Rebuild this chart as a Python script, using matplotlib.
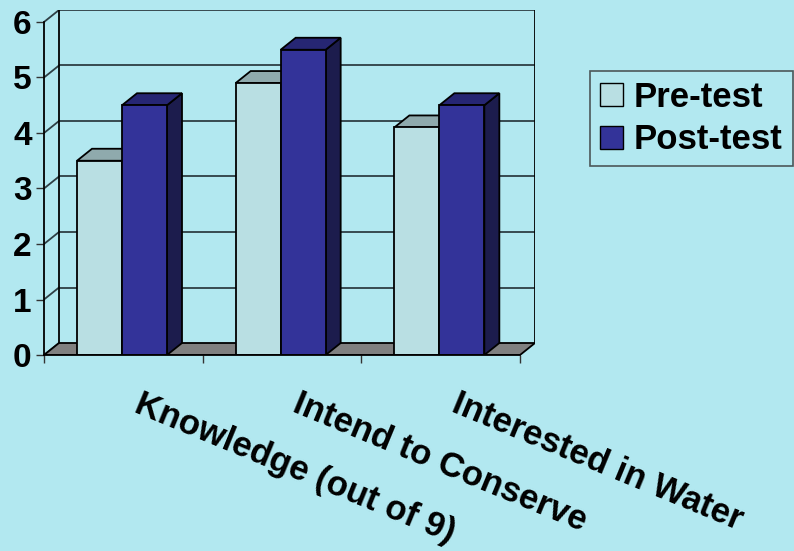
import matplotlib
matplotlib.use("Agg")
import matplotlib.pyplot as plt
from matplotlib.patches import Polygon, Rectangle, Patch

plt.rcParams['font.family'] = ['Liberation Sans', 'DejaVu Sans']
plt.rcParams['font.weight'] = 'bold'

categories = ["Knowledge (out of 9)", "Intend to Conserve", "Interested in Water"]
pre_test = [3.5, 4.9, 4.1]
post_test = [4.5, 5.5, 4.5]
series_names = ["Pre-test", "Post-test"]
y_ticks = [0, 1, 2, 3, 4, 5, 6]

BG = '#B2E8F0'
PRE = ('#B9DFE3', '#8FAAAD', '#5C7073')     # front, top, side
POST = ('#333399', '#262673', '#1C1C4D')
FLOOR = '#808080'
GRID = '#2E3E44'

W, H = 794, 551
fig = plt.figure(figsize=(W / 100, H / 100), dpi=100, facecolor=BG)

# axes region in pixels: x 44..535, y 10..355
ax = fig.add_axes([44 / W, (H - 355) / H, 491 / W, 345 / H])
ax.set_facecolor('none')
px_x = 158.67   # pixels per category
px_y = 55.5     # pixels per unit
ax.set_xlim(0, 491 / px_x)
ax.set_ylim(0, 345 / px_y)
DX = 15 / px_x
DY = 12 / px_y
n = len(categories)
ymax = y_ticks[-1]

for s in ax.spines.values():
    s.set_visible(False)

lw = 1.3
# back wall gridlines and top
for k in y_ticks[1:]:
    ax.plot([DX, n + DX], [k + DY, k + DY], color=GRID, lw=lw, solid_capstyle='butt', zorder=1)
# left wall diagonals
for k in y_ticks:
    ax.plot([0, DX], [k, k + DY], color=GRID, lw=lw, zorder=1)
# wall edges
ax.plot([DX, DX], [DY, ymax + DY], color='black', lw=lw, zorder=1)
ax.plot([n + DX, n + DX], [DY, ymax + DY], color='black', lw=lw, zorder=1)
ax.plot([0, 0], [0, ymax], color='black', lw=lw, zorder=5, clip_on=False)

# floor
ax.add_patch(Polygon([(0, 0), (n, 0), (n + DX, DY), (DX, DY)], closed=True,
                     facecolor=FLOOR, edgecolor='black', lw=lw, zorder=2))

bw = 0.2836
off = 0.208
for i in range(n):
    for j, (vals, cols) in enumerate([(pre_test, PRE), (post_test, POST)]):
        h = vals[i]
        x = i + off + j * bw
        ax.add_patch(Polygon([(x + bw, 0), (x + bw + DX, DY), (x + bw + DX, h + DY), (x + bw, h)],
                             closed=True, facecolor=cols[2], edgecolor='black', lw=lw, zorder=3))
        ax.add_patch(Polygon([(x, h), (x + DX, h + DY), (x + bw + DX, h + DY), (x + bw, h)],
                             closed=True, facecolor=cols[1], edgecolor='black', lw=lw, zorder=3))
        ax.add_patch(Rectangle((x, 0), bw, h, facecolor=cols[0], edgecolor='black', lw=lw, zorder=4))

# front axis line
ax.plot([0, n], [0, 0], color='black', lw=lw, zorder=5, clip_on=False)

ax.set_yticks(y_ticks)
ax.set_yticklabels([str(v) for v in y_ticks], fontsize=24, fontweight='bold')
ax.tick_params(axis='y', length=6, width=1, pad=3, color='#333333')
ax.set_xticks(range(n + 1))
ax.set_xticklabels([''] * (n + 1))
ax.tick_params(axis='x', length=5.5, width=1, color='#333333')

for i, c in enumerate(categories):
    ax.text(i + 0.5 + 0.12, -0.58, c, rotation=-22.5, rotation_mode='anchor',
            ha='left', va='top', fontsize=25, fontweight='bold', color='black', clip_on=False)

handles = [Patch(facecolor=PRE[0], edgecolor='black', lw=1),
           Patch(facecolor=POST[0], edgecolor='black', lw=1)]
leg = fig.legend(handles, series_names, loc='upper left',
                 bbox_to_anchor=(590 / W, 1 - 71 / H), borderaxespad=0,
                 prop={'family': 'Liberation Sans', 'weight': 'bold', 'size': 25},
                 handlelength=0.66, handleheight=0.66, handletextpad=0.33,
                 labelspacing=0.28, borderpad=0.28, fancybox=False, frameon=True)
leg.get_frame().set_facecolor('none')
leg.get_frame().set_edgecolor('#333333')
leg.get_frame().set_linewidth(1.2)

fig.savefig('out.png', dpi=100, facecolor=BG)
